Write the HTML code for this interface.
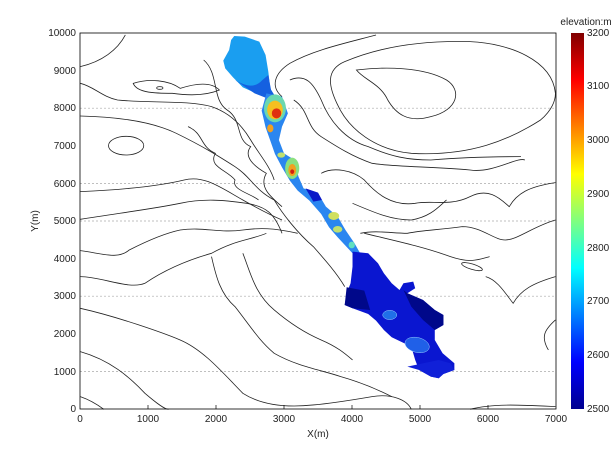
<!DOCTYPE html>
<html><head><meta charset="utf-8"><style>
body{margin:0;background:#fff;}
svg text{font-family:"Liberation Sans",sans-serif;font-size:10px;fill:#222;}
</style></head><body>
<svg width="614" height="460" viewBox="0 0 614 460" xmlns="http://www.w3.org/2000/svg">
<defs>
<linearGradient id="jet" x1="0" y1="1" x2="0" y2="0">
<stop offset="0" stop-color="#00008f"/>
<stop offset="0.125" stop-color="#0000ff"/>
<stop offset="0.375" stop-color="#00ffff"/>
<stop offset="0.625" stop-color="#ffff00"/>
<stop offset="0.875" stop-color="#ff0000"/>
<stop offset="1" stop-color="#800000"/>
</linearGradient>
</defs>
<rect x="80" y="33" width="476" height="376" fill="#fff"/>
<g stroke="#aaa" stroke-width="0.7" stroke-dasharray="2,2">
<line x1="80" x2="556" y1="371.4" y2="371.4"/>
<line x1="80" x2="556" y1="296.2" y2="296.2"/>
<line x1="80" x2="556" y1="221" y2="221"/>
<line x1="80" x2="556" y1="183.4" y2="183.4"/>
<line x1="80" x2="556" y1="108.2" y2="108.2"/>
</g>
<g transform="scale(0.3917,0.3333)">
<g fill="none" stroke="#222" stroke-width="0.8">
<path vector-effect="non-scaling-stroke" d="M205,200 C260,185 300,150 320,105"/>
<path vector-effect="non-scaling-stroke" d="M205,250 C240,260 260,290 300,300 C380,310 480,300 540,320 C590,340 620,380 640,420 C660,460 690,500 700,540"/>
<path vector-effect="non-scaling-stroke" d="M340,250 C380,235 430,240 460,265 C500,250 540,245 560,270 C520,290 470,285 440,280 C400,280 350,280 340,250Z"/>
<path vector-effect="non-scaling-stroke" d="M205,348 C280,350 380,360 450,400 C520,440 560,470 600,500 C640,530 650,570 700,600 C720,640 760,700 800,740 C830,780 860,820 880,860"/>
<path vector-effect="non-scaling-stroke" d="M520,180 C560,220 540,300 580,330 C620,360 600,420 640,440 C620,470 650,500 680,520 C660,560 690,590 720,620"/>
<path vector-effect="non-scaling-stroke" d="M480,380 C520,400 510,440 550,460 C530,500 580,510 600,540 C590,570 640,580 660,600"/>
<path vector-effect="non-scaling-stroke" d="M205,575 C300,570 400,560 470,540 C520,525 560,560 620,600 C650,620 680,640 720,660"/>
<path vector-effect="non-scaling-stroke" d="M205,658 C300,640 400,625 460,610 C520,595 570,600 630,610 C680,620 700,640 720,700"/>
<path vector-effect="non-scaling-stroke" d="M205,752 C260,760 300,780 330,750 C380,720 420,700 460,690 C520,680 560,700 620,690 C680,680 720,690 760,700"/>
<path vector-effect="non-scaling-stroke" d="M205,830 C260,830 330,870 370,850 C420,810 480,780 540,760 C600,720 640,720 680,700"/>
<path vector-effect="non-scaling-stroke" d="M540,770 C550,820 560,880 600,920 C640,980 660,1020 700,1060 C760,1100 820,1110 870,1130 C900,1140 950,1160 1000,1190"/>
<path vector-effect="non-scaling-stroke" d="M620,760 C640,820 650,880 700,930 C740,970 780,1000 820,1020 C860,1040 880,1060 900,1080"/>
<path vector-effect="non-scaling-stroke" d="M205,925 C300,950 420,1000 460,1020 C520,1050 570,1120 620,1180 C660,1210 720,1225 800,1215 C850,1210 900,1200 950,1190 C1000,1180 1040,1200 1050,1228"/>
<path vector-effect="non-scaling-stroke" d="M205,1055 C280,1080 330,1130 370,1180 C400,1210 420,1228 430,1228"/>
<path vector-effect="non-scaling-stroke" d="M205,1190 C230,1200 250,1215 265,1228"/>
<path vector-effect="non-scaling-stroke" d="M1200,1228 C1260,1210 1330,1215 1418,1220"/>
<ellipse vector-effect="non-scaling-stroke" cx="322" cy="437" rx="45" ry="28"/>
<ellipse vector-effect="non-scaling-stroke" cx="408" cy="264" rx="8" ry="4"/>
<ellipse vector-effect="non-scaling-stroke" cx="1205" cy="800" rx="28" ry="8" transform="rotate(20 1205 800)"/>
<path vector-effect="non-scaling-stroke" d="M960,105 C880,130 800,150 740,190 C700,220 690,260 720,290"/>
<path vector-effect="non-scaling-stroke" d="M1418,280 C1410,180 1300,130 1200,125 C1050,120 950,150 880,185 C830,210 840,260 860,310 C890,390 960,450 1050,460 C1200,470 1300,420 1380,360 C1410,330 1418,300 1418,280"/>
<path vector-effect="non-scaling-stroke" d="M910,210 C980,200 1080,200 1140,240 C1180,270 1170,330 1100,350 C1040,370 1010,340 990,300 C970,250 930,240 910,210Z"/>
<path vector-effect="non-scaling-stroke" d="M740,240 C780,220 800,250 820,300 C840,360 880,420 940,440 C1000,470 1040,480 1100,480 C1200,470 1300,470 1330,470"/>
<path vector-effect="non-scaling-stroke" d="M750,300 C790,330 780,380 820,410 C860,440 900,470 950,490 C1000,500 1100,500 1200,510 C1260,520 1320,470 1340,480"/>
<path vector-effect="non-scaling-stroke" d="M1418,548 C1350,560 1320,580 1300,620 C1280,600 1250,560 1200,590 C1150,620 1100,600 1060,610 C1000,620 960,580 930,540 C900,510 850,500 820,520"/>
<path vector-effect="non-scaling-stroke" d="M1418,660 C1360,680 1320,720 1290,720 C1260,720 1230,680 1180,680 C1120,690 1080,690 1040,700 C1000,700 960,690 920,700"/>
<path vector-effect="non-scaling-stroke" d="M900,610 C960,640 1000,660 1050,660 C1100,650 1120,620 1140,600"/>
<path vector-effect="non-scaling-stroke" d="M1418,830 C1360,850 1330,870 1310,910 C1290,880 1270,840 1240,830"/>
<path vector-effect="non-scaling-stroke" d="M1418,960 C1390,990 1380,1010 1400,1050"/>
<path vector-effect="non-scaling-stroke" d="M930,700 C1000,720 1080,740 1150,770 C1200,790 1220,780 1250,770"/>
</g>
<path d="M598,108 L625,110 L662,125 L678,165 L685,215 L690,265 L700,285 L680,292 L650,278 L620,262 L595,232 L575,205 L570,182 L585,150 L590,120Z" fill="#1a9ef0"/>
<path d="M600,240 C630,260 650,265 670,240 L685,225 L692,270 L702,288 L680,294 L650,280 Z" fill="#1560e0"/>
<path d="M680,280 L720,290 L735,340 L720,380 L712,420 L725,460 L752,480 L762,530 L775,565 L812,580 L832,620 L862,650 L882,690 L905,730 L922,765 L900,760 L862,712 L840,682 L820,642 L790,602 L760,572 L740,542 L720,502 L702,462 L690,422 L678,382 L668,332Z" fill="#2a86f0"/>
<path d="M780,565 L812,578 L822,600 L800,605 Z" fill="#0a18c8"/>
<ellipse cx="702" cy="325" rx="28" ry="42" fill="#6ad8b0"/>
<ellipse cx="702" cy="330" rx="20" ry="28" fill="#f5c020"/>
<ellipse cx="706" cy="340" rx="12" ry="15" fill="#e03010"/>
<ellipse cx="690" cy="385" rx="8" ry="12" fill="#f0a020"/>
<ellipse cx="746" cy="505" rx="18" ry="32" fill="#8ae080"/>
<ellipse cx="746" cy="510" rx="10" ry="18" fill="#f0a020"/>
<ellipse cx="746" cy="515" rx="5" ry="7" fill="#d02010"/>
<ellipse cx="718" cy="465" rx="10" ry="8" fill="#c0e070"/>
<ellipse cx="852" cy="648" rx="14" ry="12" fill="#d0e060"/>
<ellipse cx="862" cy="688" rx="12" ry="10" fill="#c0e070"/>
<ellipse cx="898" cy="735" rx="8" ry="10" fill="#60e0c0"/>
<path d="M900,755 L940,760 L965,790 L980,820 L1000,850 L1020,870 L1030,850 L1055,845 L1060,865 L1040,880 L1080,900 L1110,930 L1132,945 L1132,975 L1110,990 L1110,1020 L1130,1060 L1160,1090 L1160,1110 L1132,1122 L1120,1135 L1100,1130 L1070,1110 L1060,1080 L1050,1040 L1000,1012 L980,990 L960,962 L940,942 L900,925 L880,915 L885,880 L895,850 L900,800Z" fill="#0a16d0"/>
<path d="M885,862 L930,872 L945,930 L900,925 L880,915Z" fill="#00088a"/>
<path d="M1030,870 L1040,880 L1080,900 L1110,930 L1132,945 L1132,975 L1110,990 L1080,960 L1050,920 Z" fill="#00088a"/>
<path d="M1040,1100 L1070,1110 L1100,1130 L1120,1135 L1132,1122 L1160,1110 L1150,1090 L1120,1080 Z" fill="#1020d8"/>
<ellipse cx="995" cy="945" rx="18" ry="14" fill="#2070e8" stroke="#9cf" stroke-width="0.5" vector-effect="non-scaling-stroke"/>
<ellipse cx="1065" cy="1035" rx="32" ry="22" fill="#2060e8" stroke="#9cf" stroke-width="0.5" vector-effect="non-scaling-stroke" transform="rotate(20 1065 1035)"/>
</g>
<rect x="80" y="33" width="476" height="376" fill="none" stroke="#000" stroke-width="0.8"/>
<g stroke="#000" stroke-width="0.7">
<line x1="148" x2="148" y1="409" y2="405"/><line x1="216" x2="216" y1="409" y2="405"/><line x1="284" x2="284" y1="409" y2="405"/><line x1="352" x2="352" y1="409" y2="405"/><line x1="420" x2="420" y1="409" y2="405"/><line x1="488" x2="488" y1="409" y2="405"/>
</g>
<g text-anchor="middle">
<text x="80" y="422">0</text><text x="148" y="422">1000</text><text x="216" y="422">2000</text><text x="284" y="422">3000</text><text x="352" y="422">4000</text><text x="420" y="422">5000</text><text x="488" y="422">6000</text><text x="556" y="422">7000</text>
<text x="318" y="437">X(m)</text>
</g>
<g text-anchor="end">
<text x="76" y="412">0</text><text x="76" y="375">1000</text><text x="76" y="337">2000</text><text x="76" y="299">3000</text><text x="76" y="262">4000</text><text x="76" y="224">5000</text><text x="76" y="187">6000</text><text x="76" y="149">7000</text><text x="76" y="111">8000</text><text x="76" y="74">9000</text><text x="76" y="36">10000</text>
</g>
<text transform="translate(38,221) rotate(-90)" text-anchor="middle">Y(m)</text>
<rect x="571" y="33" width="13" height="376" fill="url(#jet)"/>
<text x="586" y="25" text-anchor="middle">elevation:m</text>
<g>
<text x="587" y="412">2500</text><text x="587" y="358">2600</text><text x="587" y="304">2700</text><text x="587" y="251">2800</text><text x="587" y="197">2900</text><text x="587" y="143">3000</text><text x="587" y="89">3100</text><text x="587" y="36">3200</text>
</g>
</svg>
</body></html>
